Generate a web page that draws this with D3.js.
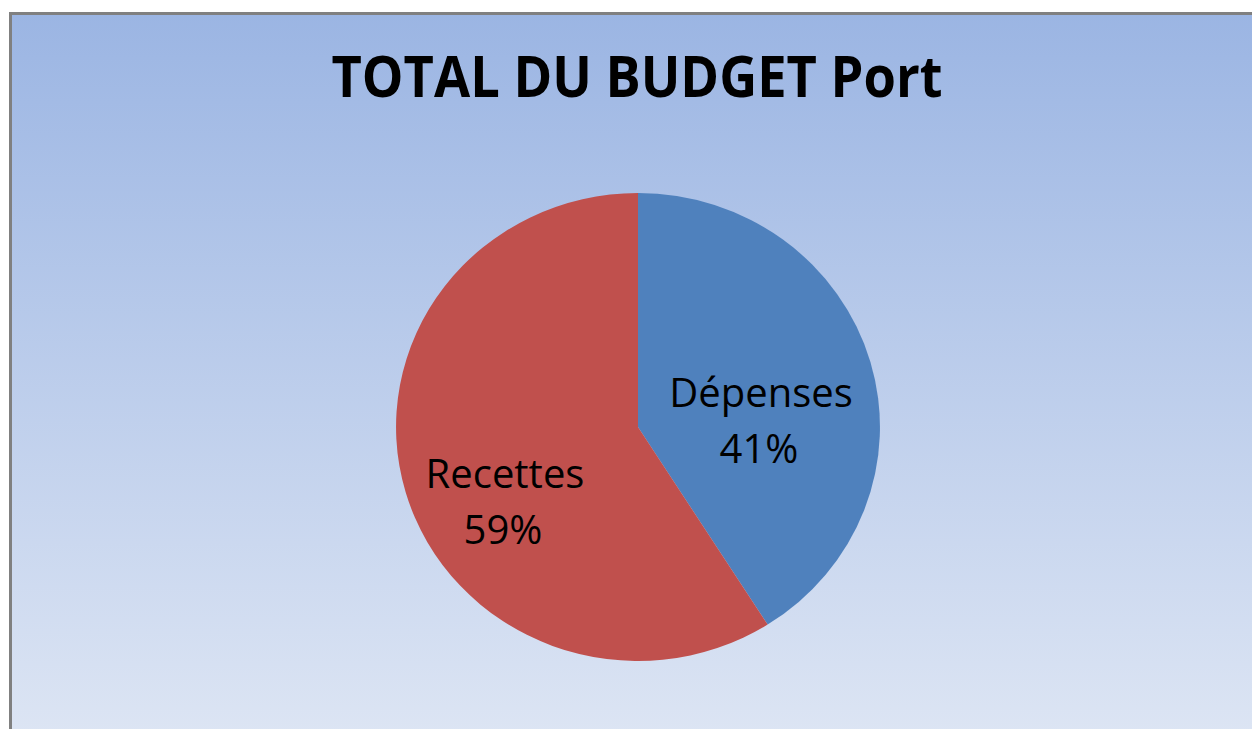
<!DOCTYPE html>
<html><head><meta charset="utf-8">
<script src="https://cdn.jsdelivr.net/npm/d3@7"></script>
<style>html,body{margin:0;padding:0;background:#fff;}svg{display:block;}</style>
</head><body>
<svg id="c" width="1252" height="729"></svg>
<script>
const categories = ["Dépenses", "Recettes"];
const values = [41, 59];
const colors = ["#4F81BD", "#C0504D"];
const title = "TOTAL DU BUDGET Port";

const svg = d3.select("#c");
const defs = svg.append("defs");
const g = defs.append("linearGradient").attr("id","bg").attr("x1",0).attr("y1",0).attr("x2",0).attr("y2",1);
g.append("stop").attr("offset","0%").attr("stop-color","#9BB5E3");
g.append("stop").attr("offset","100%").attr("stop-color","#DEE6F4");

svg.append("rect").attr("x",10).attr("y",13).attr("width",1260).attr("height",740).attr("fill","url(#bg)");
svg.append("line").attr("x1",9).attr("x2",1252).attr("y1",13.5).attr("y2",13.5).attr("stroke","#808080").attr("stroke-width",3);
svg.append("line").attr("x1",10.5).attr("x2",10.5).attr("y1",12).attr("y2",729).attr("stroke","#808080").attr("stroke-width",3);

svg.append("text").attr("x",637).attr("y",97).attr("text-anchor","middle")
  .attr("font-family","'Open Sans', sans-serif").attr("font-weight","bold").attr("font-size",57)
  .attr("textLength",611).attr("lengthAdjust","spacingAndGlyphs")
  .attr("fill","#000").text(title);

const data = categories.map((c,i)=>({cat:c, value:values[i]}));
const pie = d3.pie().value(d=>d.value).sort(null);
const arcs = pie(data);
const r = 234;
const arc = d3.arc().innerRadius(0).outerRadius(r);
const pg = svg.append("g").attr("transform","translate(638,427) scale(1.034,1)");
pg.selectAll("path").data(arcs).join("path").attr("d",arc).attr("fill",(d,i)=>colors[i]);

const total = d3.sum(values);
const labelPos = [[761, 407], [505, 488]];
const lg = svg.append("g");
arcs.forEach((d,i)=>{
  const t = lg.append("text").attr("text-anchor","middle")
    .attr("font-family","'Open Sans', sans-serif").attr("font-size",40).attr("fill","#000");
  t.append("tspan").attr("x",labelPos[i][0]).attr("y",labelPos[i][1]).text(d.data.cat);
  t.append("tspan").attr("x",labelPos[i][0]-2).attr("y",labelPos[i][1]+56).text(Math.round(d.data.value/total*100)+"%");
});
</script>
</body></html>
